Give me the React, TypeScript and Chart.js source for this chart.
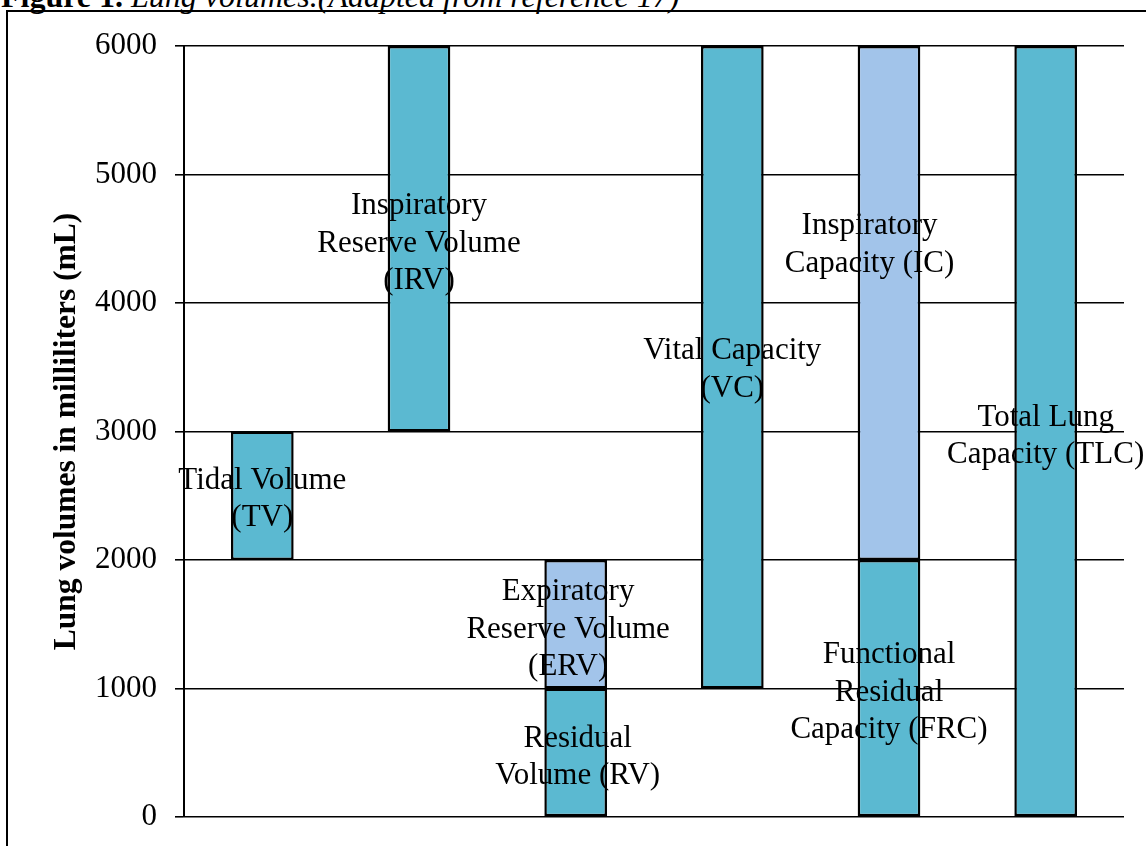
import React, { useEffect, useRef } from "react";
import { Chart, registerables } from "chart.js";

Chart.register(...registerables);

const categories = ["TV", "IRV", "ERV/RV", "VC", "IC/FRC", "TLC"];
// floating bars [start, end] in mL
const tealBars: ([number, number] | null)[] = [
  [2000, 3000],
  [3000, 6000],
  [0, 1000],
  [1000, 6000],
  [0, 2000],
  [0, 6000],
];
const lightBars: ([number, number] | null)[] = [
  null,
  null,
  [1000, 2000],
  null,
  [2000, 6000],
  null,
];
const yTicks = [0, 1000, 2000, 3000, 4000, 5000, 6000];
const yTitle = "Lung volumes in milliliters (mL)";

// annotation texts: category index (fractional allowed) and value at text block centre
const labelLines: string[][] = [
  ["Tidal Volume", "(TV)"],
  ["Inspiratory", "Reserve Volume", "(IRV)"],
  ["Expiratory", "Reserve Volume", "(ERV)"],
  ["Residual", "Volume (RV)"],
  ["Vital Capacity", "(VC)"],
  ["Inspiratory", "Capacity (IC)"],
  ["Functional", "Residual", "Capacity (FRC)"],
  ["Total Lung", "Capacity (TLC)"],
];
const labelCat = [0, 1, 1.952, 2.013, 3, 3.876, 4, 5];
const labelVal = [2470, 4462, 1459, 466, 3478, 4451, 968, 2964];

const TEAL = "#5bb9d1";
const LIGHT = "#a2c4ea";
const FONT = "'Liberation Serif', 'Times New Roman', serif";

export default function App() {
  const ref = useRef<HTMLCanvasElement | null>(null);

  useEffect(() => {
    if (!ref.current) return;
    const textPlugin = {
      id: "textLabels",
      afterDatasetsDraw(chart: any) {
        const ctx = chart.ctx;
        const xs = chart.scales.x;
        const ys = chart.scales.y;
        ctx.save();
        ctx.font = `31px ${FONT}`;
        ctx.fillStyle = "#000";
        ctx.textAlign = "center";
        ctx.textBaseline = "middle";
        const lh = 37.5;
        labelLines.forEach((lines, i) => {
          const cx = xs.getPixelForValue(labelCat[i]);
          const cy = ys.getPixelForValue(labelVal[i]);
          const startY = cy - ((lines.length - 1) * lh) / 2;
          lines.forEach((t, j) => ctx.fillText(t, cx, startY + j * lh));
        });
        ctx.restore();
      },
    };

    const chart = new Chart(ref.current, {
      type: "bar",
      data: {
        labels: categories,
        datasets: [
          {
            data: tealBars as any,
            backgroundColor: TEAL,
            borderColor: "#000",
            borderWidth: 2.5,
            borderSkipped: false,
          },
          {
            data: lightBars as any,
            backgroundColor: LIGHT,
            borderColor: "#000",
            borderWidth: 2.5,
            borderSkipped: false,
          },
        ],
      },
      options: {
        responsive: false,
        animation: false,
        devicePixelRatio: 1,
        layout: { padding: { left: 0, top: 46, right: 22, bottom: 29 } },
        plugins: { legend: { display: false }, tooltip: { enabled: false } },
        datasets: { bar: { grouped: false, barPercentage: 0.4, categoryPercentage: 1 } } as any,
        scales: {
          x: { display: false, offset: true },
          y: {
            min: 0,
            max: 6000,
            afterBuildTicks: (scale: any) => {
              scale.ticks = yTicks.map((v) => ({ value: v }));
            },
            afterFit: (scale: any) => {
              scale.width = 184;
              scale.paddingTop = 0;
              scale.paddingBottom = 0;
            },
            ticks: {
              color: "#000",
              font: { family: FONT, size: 31 },
              padding: 18,
              callback: (v: any) => String(v),
            },
            grid: { color: "#000", lineWidth: 1.6, tickLength: 9, drawTicks: true },
            border: { color: "#000", width: 2 },
            title: {
              display: true,
              text: yTitle,
              color: "#000",
              font: { family: FONT, size: 31.5, weight: "bold" },
              padding: { top: 48, bottom: 0 },
            },
          },
        },
      },
      plugins: [textPlugin],
    });
    return () => chart.destroy();
  }, []);

  return (
    <div style={{ position: "fixed", left: 0, top: 0, width: 1146, height: 846, overflow: "hidden", background: "#fff" }}>
      <div
        style={{
          position: "absolute",
          left: 1,
          top: -20,
          fontFamily: FONT,
          fontSize: 32,
          lineHeight: "32px",
          whiteSpace: "nowrap",
          color: "#000",
        }}
      >
        <b>Figure 1.</b> <i>Lung volumes.(Adapted from reference 17)</i>
      </div>
      <div
        style={{
          position: "absolute",
          left: 6,
          top: 10,
          width: 1300,
          height: 1000,
          border: "2px solid #000",
          boxSizing: "border-box",
        }}
      />
      <canvas ref={ref} width={1146} height={846} style={{ position: "absolute", left: 0, top: 0 }} />
    </div>
  );
}
